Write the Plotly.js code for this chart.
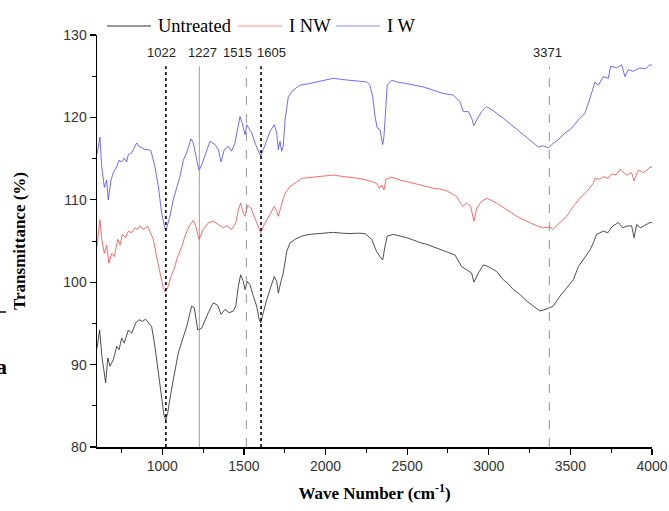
<!DOCTYPE html>
<html>
<head>
<meta charset="utf-8">
<script src="https://cdn.plot.ly/plotly-3.0.1.min.js"></script>
<style>html,body{margin:0;padding:0;background:#fff;}#chart{width:669px;height:511px;}</style>
</head>
<body>
<div id="chart"></div>
<script>
// ---- data ----
const seriesNames = ["Untreated", "I NW", "I W"];

const untreatedX = [600,616,630,653,666,680,700,721,735,751,767,792,812,837,857,878,898,914,935,955,976,996,1010,1021,1033,1053,1074,1098,1123,1149,1180,1196,1217,1241,1282,1312,1339,1360,1384,1409,1435,1450,1466,1480,1496,1507,1521,1537,1558,1578,1594,1603,1619,1640,1666,1686,1701,1711,1727,1741,1762,1782,1813,1854,1900,1946,2000,2048,2100,2150,2200,2242,2283,2313,2334,2350,2364,2378,2415,2460,2497,2540,2579,2620,2660,2700,2742,2793,2834,2865,2895,2909,2936,2967,2997,3048,3089,3120,3150,3180,3212,3240,3273,3314,3355,3395,3436,3477,3518,3549,3579,3620,3640,3661,3702,3730,3753,3794,3820,3845,3875,3890,3906,3930,3947,3970,3988,4000];
const untreatedY = [92.0,94.2,91.0,87.8,90.8,89.8,90.6,92.2,91.8,93.2,92.6,94.2,93.8,95.05,95.45,95.25,95.5,95.05,94.6,92.2,89.0,85.8,83.9,83.3,84.1,86.6,89.0,91.4,93.0,94.6,97.1,96.9,94.2,94.4,96.3,97.5,97.2,96.1,96.7,96.3,96.5,97.1,99.5,100.9,100.1,99.1,100.1,99.7,98.3,97.1,95.45,95.05,96.3,97.9,99.5,100.7,100.1,98.7,100.1,101.1,103.7,104.75,105.2,105.6,105.8,105.9,106.0,106.05,105.95,105.9,105.95,105.9,105.2,103.7,103.1,102.7,104.3,105.6,105.8,105.6,105.4,105.1,104.8,104.6,104.3,104.0,103.7,103.3,101.9,101.5,101.1,100.0,101.1,102.1,101.9,101.3,100.3,99.8,99.1,98.7,98.1,97.6,97.1,96.5,96.75,97.1,98.3,99.3,100.3,101.9,102.7,103.9,104.75,105.8,106.2,106.0,106.7,107.25,106.6,106.8,106.85,105.4,107.0,106.6,106.8,107.1,107.25,107.2];

const inwX = [600,618,629,645,659,673,690,706,727,741,755,776,792,812,833,849,863,884,910,925,945,965,986,1006,1017,1033,1053,1074,1094,1119,1139,1164,1190,1205,1225,1251,1282,1312,1343,1374,1394,1425,1450,1466,1480,1496,1507,1523,1543,1564,1584,1603,1619,1640,1660,1686,1701,1711,1727,1752,1782,1813,1854,1900,1946,2000,2048,2100,2150,2200,2252,2313,2329,2344,2358,2370,2405,2456,2500,2558,2610,2660,2700,2742,2803,2840,2865,2889,2909,2926,2956,2987,3048,3110,3171,3232,3294,3334,3375,3392,3436,3477,3518,3559,3600,3640,3651,3680,3702,3730,3753,3780,3804,3845,3875,3890,3916,3947,3970,3988,4000];
const inwY = [104.3,107.6,105.2,103.5,104.5,102.3,103.5,103.1,105.2,104.5,105.8,105.4,106.2,106.0,106.6,106.4,106.85,106.4,106.8,106.2,105.2,103.1,101.1,99.3,98.8,99.3,100.7,101.7,103.1,104.3,105.6,106.8,107.5,106.8,105.2,106.4,107.2,107.4,107.0,106.6,106.85,106.4,107.2,108.8,109.6,108.4,108.0,109.3,109.0,108.0,107.0,106.0,106.8,107.6,108.4,109.2,108.6,108.0,109.2,110.8,111.6,112.0,112.6,112.7,112.8,112.9,113.0,112.85,112.75,112.6,112.4,112.0,111.4,111.8,111.2,112.5,112.75,112.4,112.2,111.9,111.7,111.4,111.3,111.1,110.4,109.2,109.6,109.2,107.4,109.0,109.8,110.2,109.6,108.8,108.0,107.4,106.85,106.6,106.7,106.4,107.2,108.0,109.2,110.2,111.0,112.0,112.6,112.5,112.8,112.6,113.15,113.0,113.7,113.0,113.3,112.3,113.6,113.3,113.6,114.0,113.9];

const iwX = [600,618,629,645,659,669,686,700,720,735,751,767,782,792,812,829,843,857,874,894,914,931,955,976,996,1017,1027,1047,1067,1088,1108,1129,1149,1176,1190,1211,1225,1241,1272,1292,1323,1343,1360,1380,1404,1425,1445,1462,1476,1490,1507,1517,1531,1548,1568,1588,1603,1619,1640,1660,1686,1701,1711,1721,1731,1741,1752,1772,1800,1843,1900,1946,2000,2048,2100,2150,2200,2252,2272,2289,2303,2317,2334,2350,2358,2366,2378,2405,2436,2497,2558,2599,2660,2721,2783,2824,2844,2875,2895,2909,2926,2956,2987,3028,3089,3150,3212,3273,3304,3334,3365,3385,3426,3467,3508,3549,3589,3610,3630,3651,3671,3702,3732,3747,3783,3814,3834,3855,3885,3926,3960,3988,4000];
const iwY = [115.5,117.6,114.0,111.5,112.4,110.0,112.4,113.3,114.0,114.8,114.6,115.05,114.6,115.5,115.7,116.3,116.9,116.5,116.3,116.1,116.1,115.9,114.0,111.6,108.4,106.4,106.6,108.0,110.0,111.4,112.8,114.8,115.7,117.4,116.9,114.8,113.6,114.2,116.1,117.1,116.7,116.1,114.6,116.1,116.5,115.9,116.9,118.5,120.1,119.3,117.9,119.1,118.7,118.1,116.9,115.9,115.3,116.1,117.3,118.3,119.1,118.1,116.1,117.1,115.9,116.5,119.7,122.5,123.3,123.9,124.1,124.3,124.6,124.75,124.6,124.5,124.4,124.3,123.9,122.5,120.1,118.7,118.5,116.7,117.7,120.9,123.9,124.5,124.3,124.1,123.9,123.7,123.3,122.9,122.7,121.9,120.7,120.7,119.9,119.0,119.7,120.7,121.3,120.8,119.9,118.9,117.9,116.9,116.4,116.55,116.3,116.7,117.3,118.1,118.7,119.7,120.5,121.7,122.9,124.3,123.9,124.95,124.75,126.2,126.0,126.4,124.95,125.8,125.6,126.0,125.9,126.4,126.3];

const peakPositions = [1022, 1227, 1515, 1605, 3371];
const peakLabels = ["1022", "1227", "1515", "1605", "3371"];

// ---- styles ----
const serif = "Liberation Serif, Times New Roman, serif";
const sans = "Liberation Sans, Arial, sans-serif";
const colors = ["#222222", "#ff4444", "#4646ff"];
const legendColors = ["#333333", "#ff8a8a", "#8a8aff"];
const peakStyles = [
  {color:"#000", width:1.6, dash:"dot"},
  {color:"#888", width:0.8, dash:"solid"},
  {color:"#888", width:0.9, dash:"dash"},
  {color:"#000", width:1.6, dash:"dot"},
  {color:"#888", width:0.9, dash:"dash"}
];
const labelShift = [-4, 3, -9, 10, -2];

// plot-area geometry (pixels) used to place the hand-drawn legend
const W = 669, H = 511, mL = 97, mR = 17, mT = 35, mB = 64;
const pw = W - mL - mR, ph = H - mT - mB;
const px2x = p => (p - mL) / pw;
const py2y = p => (H - mB - p) / ph;
const legendLineStart = [107, 238, 336];
const legendLineLen = 44;
const legendRowY = 26;

const xs = [untreatedX, inwX, iwX];
const ys = [untreatedY, inwY, iwY];
const traces = seriesNames.map((n, i) => ({
  type: "scatter", mode: "lines", name: n,
  x: xs[i], y: ys[i],
  line: {color: colors[i], width: 0.8},
  showlegend: false
}));

const shapes = peakPositions.map((p, i) => ({
  type: "line", xref: "x", yref: "y",
  x0: p, x1: p, y0: 80, y1: 126.2,
  line: peakStyles[i]
}));
shapes.push({type:"line", xref:"paper", yref:"paper", x0:px2x(0), x1:px2x(6), y0:py2y(312), y1:py2y(312), line:{color:"#000", width:1.5}});

const annotations = peakPositions.map((p, i) => ({
  x: p, y: py2y(53), xref: "x", yref: "paper", yanchor: "middle",
  text: peakLabels[i], showarrow: false, xshift: labelShift[i],
  font: {family: sans, size: 13, color: "#222"}
}));
annotations.push({x:px2x(9), y:py2y(366), xref:"paper", yref:"paper", xanchor:"right", yanchor:"middle",
  text:"a", showarrow:false, font:{family:serif, size:22, color:"#000", weight:"bold"}});

// custom legend
seriesNames.forEach((n, i) => {
  const s = legendLineStart[i];
  shapes.push({type:"line", xref:"paper", yref:"paper",
    x0:px2x(s), x1:px2x(s + legendLineLen), y0:py2y(legendRowY), y1:py2y(legendRowY),
    line:{color:legendColors[i], width:1}});
  annotations.push({x:px2x(s + legendLineLen + 5), y:py2y(legendRowY), xref:"paper", yref:"paper",
    xanchor:"left", yanchor:"middle", text:n, showarrow:false,
    font:{family:serif, size:18.5, color:"#000"}});
});

const layout = {
  width: W, height: H,
  margin: {l: mL, r: mR, t: mT, b: mB, pad: 0, autoexpand: false},
  paper_bgcolor: "#fff", plot_bgcolor: "#fff",
  showlegend: false,
  xaxis: {
    range: [600, 4000], dtick: 500, tick0: 1000,
    showgrid: false, zeroline: false,
    showline: true, linecolor: "#000", linewidth: 1.5,
    ticks: "outside", ticklen: 6, tickwidth: 1.2, tickcolor: "#000",
    minor: {dtick: 250, tick0: 750, ticks: "outside", ticklen: 4, tickwidth: 1, tickcolor: "#000", showgrid: false},
    tickfont: {family: sans, size: 14, color: "#333"},
    title: {text: "Wave Number (cm<sup>-1</sup>)", font: {family: serif, size: 17, color: "#000", weight: "bold"}, standoff: 14}
  },
  yaxis: {
    range: [80, 130], dtick: 10, tick0: 80,
    showgrid: false, zeroline: false,
    showline: true, linecolor: "#000", linewidth: 1.5,
    ticks: "outside", ticklen: 6, tickwidth: 1.2, tickcolor: "#000",
    minor: {dtick: 5, ticks: "outside", ticklen: 4, tickwidth: 1, tickcolor: "#000", showgrid: false},
    tickfont: {family: sans, size: 14, color: "#333"},
    title: {text: "Transmittance (%)", font: {family: serif, size: 17, color: "#000", weight: "bold"}, standoff: 33}
  },
  shapes: shapes,
  annotations: annotations
};

Plotly.newPlot("chart", traces, layout, {staticPlot: true, displayModeBar: false});
</script>
</body>
</html>
